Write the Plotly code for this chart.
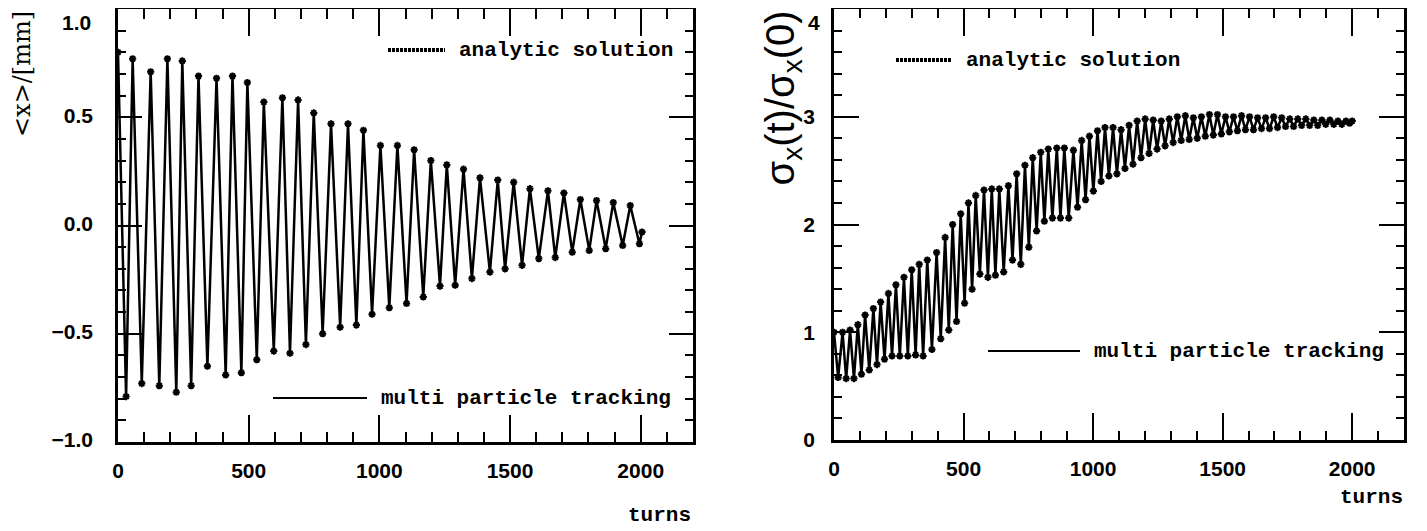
import plotly.graph_objects as go

# left panel: <x> oscillation, turns of the peaks / troughs
left_peak_turns = [0, 56, 125, 189, 246, 308, 377, 438, 495, 558, 629, 689, 749, 815, 880, 939,
                   1004, 1069, 1133, 1197, 1258, 1322, 1385, 1453, 1514, 1576, 1645, 1706, 1769,
                   1831, 1895, 1960]
left_peak_x = [0.80, 0.77, 0.71, 0.77, 0.76, 0.69, 0.68, 0.69, 0.66, 0.57, 0.59, 0.58, 0.52, 0.47,
               0.47, 0.44, 0.37, 0.37, 0.35, 0.30, 0.28, 0.26, 0.22, 0.21, 0.20, 0.17, 0.16, 0.15,
               0.12, 0.115, 0.106, 0.092]
left_trough_turns = [31, 91, 158, 223, 280, 342, 412, 472, 531, 596, 658, 719, 783, 850, 912, 972,
                     1038, 1104, 1168, 1232, 1290, 1354, 1423, 1481, 1546, 1610, 1673, 1738, 1803,
                     1866, 1931, 1995, 2005]
left_trough_x = [-0.79, -0.73, -0.74, -0.77, -0.74, -0.65, -0.69, -0.68, -0.62, -0.58, -0.59, -0.55,
                 -0.50, -0.47, -0.46, -0.41, -0.38, -0.36, -0.33, -0.28, -0.276, -0.245, -0.215,
                 -0.20, -0.184, -0.153, -0.148, -0.123, -0.115, -0.107, -0.092, -0.084, -0.03]
left_yticks = [-1, -0.5, 0, 0.5, 1]
left_ylabels = ["−1.0", "−0.5", "0.0", "0.5", "1.0"]

# right panel: sigma_x(t)/sigma_x(0)
right_peak_turns = [0, 33, 62, 92, 120, 152, 180, 210, 239, 270, 300, 329, 360, 396, 429, 458, 489,
                    519, 547, 579, 609, 638, 673, 705, 737, 767, 798, 827, 860, 889, 924, 956, 986,
                    1017, 1046, 1077, 1108, 1139, 1170, 1201, 1232, 1263, 1294, 1325, 1356, 1387,
                    1418, 1449, 1480, 1511, 1542, 1573, 1604, 1635, 1666, 1697, 1728, 1759, 1790,
                    1821, 1852, 1883, 1914, 1945, 1976, 2000]
right_peak_sig = [1.00, 1.00, 1.02, 1.07, 1.16, 1.22, 1.28, 1.36, 1.44, 1.51, 1.58, 1.63, 1.67, 1.74,
                  1.88, 2.00, 2.10, 2.20, 2.27, 2.32, 2.33, 2.33, 2.36, 2.47, 2.55, 2.62, 2.67, 2.70,
                  2.71, 2.71, 2.69, 2.78, 2.82, 2.87, 2.90, 2.90, 2.88, 2.92, 2.96, 2.98, 2.97, 2.96,
                  2.98, 3.00, 3.01, 2.99, 3.00, 3.02, 3.02, 3.00, 3.00, 3.01, 3.00, 2.99, 2.99, 3.00,
                  2.99, 2.98, 2.98, 2.98, 2.97, 2.97, 2.97, 2.96, 2.96, 2.96]
right_trough_turns = [16, 47, 77, 106, 136, 166, 195, 224, 254, 285, 315, 344, 378, 412, 443, 473,
                      504, 533, 563, 594, 623, 655, 689, 721, 752, 782, 812, 843, 874, 906, 940, 971,
                      1001, 1031, 1061, 1092, 1123, 1154, 1185, 1216, 1247, 1278, 1309, 1340, 1371,
                      1402, 1433, 1464, 1495, 1526, 1557, 1588, 1619, 1650, 1681, 1712, 1743, 1774,
                      1805, 1836, 1867, 1898, 1929, 1960, 1990]
right_trough_sig = [0.58, 0.57, 0.57, 0.61, 0.65, 0.70, 0.75, 0.78, 0.78, 0.78, 0.79, 0.78, 0.84,
                    0.94, 1.02, 1.10, 1.27, 1.40, 1.54, 1.51, 1.53, 1.56, 1.67, 1.63, 1.79, 1.94,
                    2.03, 2.06, 2.06, 2.06, 2.16, 2.23, 2.31, 2.40, 2.45, 2.47, 2.52, 2.56, 2.62,
                    2.66, 2.70, 2.73, 2.76, 2.78, 2.79, 2.80, 2.82, 2.83, 2.84, 2.86, 2.87, 2.88,
                    2.88, 2.89, 2.89, 2.90, 2.91, 2.91, 2.92, 2.92, 2.92, 2.93, 2.93, 2.93, 2.94]
right_yticks = [0, 1, 2, 3, 4]
right_ylabels = ["0", "1", "2", "3", "4"]

turn_ticks = [0, 500, 1000, 1500, 2000]

W, H = 1427, 531
OFF = 8  # the page body margin shifts the figure by 8px

def merge(t1, v1, t2, v2):
    pts = sorted(zip(t1 + t2, v1 + v2))
    return [p[0] for p in pts], [p[1] for p in pts]

lt, lx = merge(left_peak_turns, left_peak_x, left_trough_turns, left_trough_x)
rt, rs = merge(right_peak_turns, right_peak_sig, right_trough_turns, right_trough_sig)

# screen pixel -> paper coords
def px(x):
    return (x - OFF) / W

def py(y):
    return 1 - (y - OFF) / H

fig = go.Figure()

# multi particle tracking (solid line) and analytic solution (markers)
mk = dict(symbol="asterisk-open", size=6, color="black", line=dict(width=2, color="black"))
fig.add_trace(go.Scatter(x=lt, y=lx, mode="lines", line=dict(color="black", width=2.5),
                         xaxis="x", yaxis="y", showlegend=False))
fig.add_trace(go.Scatter(x=lt, y=lx, mode="markers", xaxis="x", yaxis="y", showlegend=False,
                         marker=mk))
fig.add_trace(go.Scatter(x=rt, y=rs, mode="lines", line=dict(color="black", width=2.5),
                         xaxis="x2", yaxis="y2", showlegend=False))
fig.add_trace(go.Scatter(x=rt, y=rs, mode="markers", xaxis="x2", yaxis="y2", showlegend=False,
                         marker=mk))

tickfont = dict(family="Liberation Sans", size=21, color="black", weight="bold")
ax_common = dict(showline=True, linecolor="black", linewidth=2.5, mirror="allticks",
                 ticks="inside", tickcolor="black", tickwidth=2, showgrid=False,
                 zeroline=False, tickfont=tickfont, automargin=False)

# top labels sit at the page edge; they are drawn a little lower as annotations
fig.update_layout(
    width=W, height=H,
    margin=dict(l=0, r=0, t=0, b=0, pad=0),
    paper_bgcolor="white", plot_bgcolor="white",
    xaxis=dict(domain=[px(118), px(693)], range=[0, 2200], anchor="y",
               tickvals=turn_ticks, ticklen=27, ticklabelstandoff=8,
               minor=dict(dtick=100, ticks="inside", ticklen=10, tickwidth=2, tickcolor="black"),
               **ax_common),
    yaxis=dict(domain=[py(442), py(9)], range=[-1, 1], anchor="x",
               tickvals=left_yticks, ticktext=left_ylabels[:-1] + [""], ticklen=24,
               ticklabelstandoff=18, ticklabelshift=-2,
               minor=dict(dtick=0.1, ticks="inside", ticklen=8, tickwidth=2, tickcolor="black"),
               **ax_common),
    xaxis2=dict(domain=[px(834), px(1404)], range=[0, 2200], anchor="y2",
                tickvals=turn_ticks, ticklen=27, ticklabelstandoff=8,
                minor=dict(dtick=100, ticks="inside", ticklen=9, tickwidth=2, tickcolor="black"),
                **ax_common),
    yaxis2=dict(domain=[py(440), py(9)], range=[0, 4], anchor="x2",
                tickvals=right_yticks, ticktext=right_ylabels[:-1] + [""], ticklen=25,
                ticklabelstandoff=12,
                minor=dict(dtick=0.2, ticks="inside", ticklen=8, tickwidth=2, tickcolor="black"),
                **ax_common),
)

fig.add_annotation(text=left_ylabels[-1], xref="paper", yref="paper", x=px(93), y=py(23),
                   xanchor="right", yanchor="middle", showarrow=False, font=tickfont)
fig.add_annotation(text=right_ylabels[-1], xref="paper", yref="paper", x=px(822), y=py(23),
                   xanchor="right", yanchor="middle", showarrow=False, font=tickfont)

labfont = dict(family="Liberation Mono", size=21, color="black", weight="bold")

def legend_entry(x0, x1, y, text, dotted):
    fig.add_shape(type="line", xref="paper", yref="paper", x0=px(x0), x1=px(x1),
                  y0=py(y), y1=py(y),
                  line=dict(color="black", width=4 if dotted else 2,
                            dash="3px,1px" if dotted else "solid"))
    fig.add_annotation(text=text, xref="paper", yref="paper", x=px(x1 + 12), y=py(y),
                       xanchor="left", yanchor="middle", showarrow=False, font=labfont)

legend_entry(388, 445, 50, "analytic solution", True)
legend_entry(273, 367, 398, "multi particle tracking", False)
legend_entry(896, 952, 60, "analytic solution", True)
legend_entry(988, 1080, 351, "multi particle tracking", False)

fig.add_annotation(text="turns", xref="paper", yref="paper", x=px(693), y=py(515),
                   xanchor="right", yanchor="middle", showarrow=False, font=labfont)
fig.add_annotation(text="turns", xref="paper", yref="paper", x=px(1405), y=py(497),
                   xanchor="right", yanchor="middle", showarrow=False, font=labfont)

fig.add_annotation(text="&lt;x&gt;/[mm]", xref="paper", yref="paper", x=px(22), y=py(9),
                   xanchor="center", yanchor="top", textangle=-90, showarrow=False,
                   font=dict(family="DejaVu Serif", size=24, color="black"))
fig.add_annotation(text="σ<sub>x</sub>(t)/σ<sub>x</sub>(0)", xref="paper", yref="paper",
                   x=px(782), y=py(9), xanchor="center", yanchor="top", textangle=-90,
                   showarrow=False,
                   font=dict(family="Liberation Sans", size=40, color="black"))

fig.write_html("out.html")
